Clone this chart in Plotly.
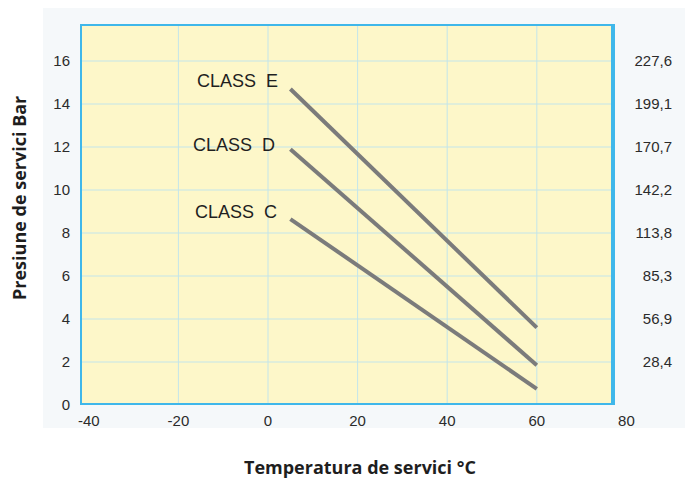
import plotly.graph_objects as go

# ---------------- data ----------------
temps = [5, 60]
class_names = ["CLASS  E", "CLASS  D", "CLASS  C"]
class_e = [14.7, 3.6]
class_d = [11.9, 1.85]
class_c = [8.65, 0.75]
x_ticks = [-40, -20, 0, 20, 40, 60, 80]
x_tick_text = ["-40", "-20", "0", "20", "40", "60", "80"]
x_grid = [-20, 0, 20, 40, 60]
y_ticks = [0, 2, 4, 6, 8, 10, 12, 14, 16]
y_grid = [2, 4, 6, 8, 10, 12, 14, 16]
psi_labels = ["0", "28,4", "56,9", "85,3", "113,8", "142,2", "170,7", "199,1", "227,6"]

# ---------------- geometry (pixels) ----------------
W, H = 685, 482
PX_LEFT, PX_RIGHT_PAPER = 80, 680
PX_TOP, PX_BOTTOM = 24, 405
X0_PX, X_SCALE = 268.0, 4.48       # px of x=0, px per unit
Y_SCALE = 21.5                     # px per bar
BORDER_RIGHT_PX = 613

x_min = (PX_LEFT - X0_PX) / X_SCALE
x_max = 81.0
x_border = (BORDER_RIGHT_PX - X0_PX) / X_SCALE
y_max = (PX_BOTTOM - PX_TOP) / Y_SCALE
paper_w = PX_RIGHT_PAPER - PX_LEFT
paper_h = PX_BOTTOM - PX_TOP
dom_right = (X0_PX + x_max * X_SCALE - PX_LEFT) / paper_w

LINE_COLOR = "#7b7b7b"
GRID_COLOR = "#c3e5ea"
BORDER_COLOR = "#3fb7ea"
FILL_COLOR = "#fdf7c9"
TICK_FONT = dict(family="Liberation Sans, Arial, sans-serif", size=15, color="#2b2b2b")
TITLE_FONT = dict(family="Open Sans, sans-serif", size=18, color="#1e1e1e", weight=700)

fig = go.Figure()

series = [class_e, class_d, class_c]
label_shift = [(-10, 8), (-13, 4), (-11, 7)]
for name, vals, (dx, dy) in zip(class_names, series, label_shift):
    fig.add_trace(go.Scatter(x=temps, y=vals, mode="lines", name=name,
                             line=dict(color=LINE_COLOR, width=4),
                             showlegend=False, hoverinfo="skip"))
    fig.add_annotation(x=temps[0], y=vals[0], xref="x", yref="y", text=name,
                       showarrow=False, xanchor="right", yanchor="middle",
                       xshift=dx, yshift=dy,
                       font=dict(family="Liberation Sans, Arial, sans-serif", size=18, color="#1f1f1f"))

# dummy trace for right axis
fig.add_trace(go.Scatter(x=[None], y=[None], yaxis="y2", showlegend=False))

shapes = []
# faint outer scan background
shapes.append(dict(type="rect", xref="paper", yref="paper",
                   x0=(43 - PX_LEFT) / paper_w, x1=(W - PX_LEFT) / paper_w,
                   y0=(PX_BOTTOM - 428) / paper_h, y1=(PX_BOTTOM - 8) / paper_h,
                   fillcolor="#f5f8fa", line=dict(width=0), layer="below"))
shapes.append(dict(type="rect", xref="x", yref="y", x0=x_min, x1=x_border, y0=0, y1=y_max,
                   fillcolor=FILL_COLOR, line=dict(width=0), layer="below"))
for gx in x_grid:
    shapes.append(dict(type="line", xref="x", yref="y", x0=gx, x1=gx, y0=0, y1=y_max,
                       line=dict(color=GRID_COLOR, width=1), layer="below"))
for gy in y_grid:
    shapes.append(dict(type="line", xref="x", yref="y", x0=x_min, x1=x_border, y0=gy, y1=gy,
                       line=dict(color=GRID_COLOR, width=1), layer="below"))
shapes.append(dict(type="rect", xref="x", yref="y", x0=x_min, x1=x_border, y0=0, y1=y_max,
                   fillcolor="rgba(0,0,0,0)", line=dict(color=BORDER_COLOR, width=4), layer="below"))

fig.update_layout(
    width=W, height=H,
    margin=dict(l=PX_LEFT, r=W - PX_RIGHT_PAPER, t=PX_TOP, b=H - PX_BOTTOM, autoexpand=False),
    paper_bgcolor="white", plot_bgcolor="rgba(0,0,0,0)",
    shapes=shapes,
    xaxis=dict(range=[x_min, x_max], domain=[0, dom_right], tickvals=x_ticks,
               ticktext=x_tick_text, automargin=False,
               showgrid=False, zeroline=False, showline=False, ticks="",
               tickfont=TICK_FONT, ticklabelstandoff=5, fixedrange=True),
    yaxis=dict(range=[0, y_max], tickvals=y_ticks, showgrid=False, zeroline=False,
               automargin=False,
               showline=False, ticks="", tickfont=TICK_FONT, ticklabelstandoff=9),
    yaxis2=dict(range=[0, y_max], tickvals=y_ticks, ticktext=psi_labels,
                overlaying="y", anchor="free", side="right", ticklabelposition="inside",
                position=(675 - PX_LEFT) / paper_w, automargin=False,
                showgrid=False, zeroline=False, showline=False, ticks="",
                tickfont=TICK_FONT, ticklabelstandoff=0),
    annotations=list(fig.layout.annotations) + [
        dict(text="Presiune de servici Bar", xref="paper", yref="paper",
             x=(19 - PX_LEFT) / paper_w, y=(PX_BOTTOM - 198) / paper_h,
             textangle=-90, showarrow=False, xanchor="center", yanchor="middle",
             font=TITLE_FONT),
        dict(text="Temperatura de servici °C", xref="paper", yref="paper",
             x=(360 - PX_LEFT) / paper_w, y=(PX_BOTTOM - 481) / paper_h,
             showarrow=False, xanchor="center", yanchor="bottom",
             font=TITLE_FONT),
    ],
)

fig.write_html("out.html", config={"displayModeBar": False},
               post_script="document.body.style.margin='0';document.body.style.overflow='hidden';")
